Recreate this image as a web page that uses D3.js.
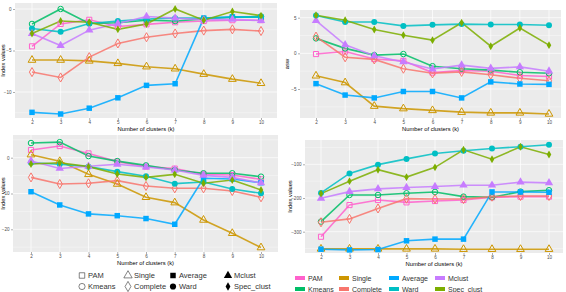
<!DOCTYPE html>
<html>
<head>
<meta charset="utf-8">
<script src="https://cdn.jsdelivr.net/npm/d3@7"></script>
<style>
body { margin: 0; background: #fff; }
svg { display: block; font-family: "Liberation Sans", Arial, sans-serif; }
</style>
</head>
<body>
<div id="chart"></div>
<script>
// data
const ks = [2, 3, 4, 5, 6, 7, 8, 9, 10]
const methods = ["PAM", "Kmeans", "Single", "Complete", "Average", "Ward", "Mclust", "Spec_clust"]
const colors = ["#FF61CC", "#00BE67", "#CD9600", "#F8766D", "#00A9FF", "#00BFC4", "#C77CFF", "#7CAE00"]
const shapeNames = ["square", "circle", "triangle", "diamond", "square", "circle", "triangle", "diamond"]
const shapeFilled = [false, false, false, false, true, true, true, true]

// top left panel (Index values)
const topLeft = {
  PAM:        [-4.5, -1.8, -1.3, -2.1, -1.85, -1.6, -1.45, -1.35, -1.35],
  Kmeans:     [-1.8, 0.0, -1.75, -1.65, -1.35, -1.45, -1.2, -1.0, -0.9],
  Single:     [-6.15, -6.15, -6.25, -6.55, -6.95, -7.2, -7.85, -8.45, -8.95],
  Complete:   [-7.6, -8.25, -5.8, -4.15, -3.4, -2.95, -2.6, -2.45, -2.65],
  Average:    [-12.45, -12.65, -11.95, -10.7, -9.2, -9.0, -1.1, -0.95, -1.0],
  Ward:       [-2.35, -2.75, -1.75, -1.45, -1.2, -1.1, -1.1, -1.0, -1.0],
  Mclust:     [-2.95, -4.4, -2.55, -1.75, -0.9, -1.1, -1.3, -1.25, -1.4],
  Spec_clust: [-2.95, -1.45, -1.6, -2.45, -1.8, 0.0, -1.35, -0.3, -0.8]
}
// top right panel (asw)
const topRight = {
  PAM:        [-0.1, 0.25, -0.8, -1.05, -2.7, -2.4, -2.5, -3.1, -3.25],
  Kmeans:     [2.1, 0.7, -0.25, -0.1, -1.8, -2.15, -2.35, -2.65, -2.8],
  Single:     [-3.15, -4.1, -7.4, -7.75, -8.0, -8.25, -8.35, -8.35, -8.5],
  Complete:   [2.35, -0.55, -0.85, -2.15, -2.8, -2.6, -3.0, -3.5, -3.85],
  Average:    [-4.25, -5.85, -6.25, -5.35, -5.35, -6.25, -4.0, -4.3, -4.35],
  Ward:       [5.3, 4.4, 4.4, 3.85, 4.0, 4.1, 4.05, 4.05, 3.95],
  Mclust:     [4.6, 1.2, -0.35, -1.2, -2.2, -1.65, -2.1, -1.9, -2.5],
  Spec_clust: [5.35, 4.65, 3.35, 2.55, 1.85, 4.3, 1.0, 3.55, 1.15]
}
// bottom left panel (Index values)
const bottomLeft = {
  PAM:        [2.15, 3.25, 1.2, -1.1, -2.5, -3.05, -4.65, -4.85, -6.05],
  Kmeans:     [4.1, 4.35, 0.45, -0.95, -2.15, -3.45, -4.35, -4.35, -5.3],
  Single:     [0.85, -1.0, -4.65, -7.35, -11.05, -12.55, -17.4, -21.1, -25.1],
  Complete:   [-5.5, -7.35, -7.15, -6.4, -7.9, -8.55, -8.55, -9.3, -11.05],
  Average:    [-9.5, -13.2, -15.7, -16.2, -17.0, -18.6, -5.75, -5.95, -7.0],
  Ward:       [-1.4, -1.85, -2.5, -3.9, -5.2, -7.25, -6.8, -8.75, -9.95],
  Mclust:     [-0.9, -3.0, -2.4, -1.85, -2.6, -3.45, -4.95, -5.5, -7.05],
  Spec_clust: [-1.75, -1.4, -2.5, -4.55, -5.5, -4.65, -7.15, -6.25, -9.0]
}
// bottom right panel (Index values)
const bottomRight = {
  PAM:        [-315, -221, -206, -213, -209, -206, -198, -196, -196],
  Kmeans:     [-270, -191, -191, -186, -182, -196, -198, -181, -177],
  Single:     [-351, -351, -351, -351, -351, -352, -352, -352, -352],
  Complete:   [-272, -262, -231, -202, -203, -203, -196, -194, -194],
  Average:    [-352, -354, -353, -327, -322, -322, -182, -182, -183],
  Ward:       [-185, -127, -101, -84, -68, -60, -53, -48, -42],
  Mclust:     [-201, -181, -173, -169, -166, -162, -162, -153, -155],
  Spec_clust: [-187, -150, -116, -138, -109, -57, -85, -48, -71]
}

const W = 566, H = 292

const svg = d3.select("#chart").append("svg")
  .attr("width", W)
  .attr("height", H)

const symbolOf = {
  square: d3.symbolSquare,
  circle: d3.symbolCircle,
  triangle: d3.symbolTriangle,
  diamond: d3.symbolDiamond
}
const symbolSize = [26, 24, 26, 24, 30, 28, 30, 18]

function drawPanel(values, p) {
  const g = svg.append("g")

  const x = d3.scaleLinear().domain([2, 10]).range(p.xr)
  const y = d3.scaleLinear().domain(p.yDom).range(p.yr)

  // background
  g.append("rect")
    .attr("x", p.box[0]).attr("y", p.box[1])
    .attr("width", p.box[2] - p.box[0])
    .attr("height", p.box[3] - p.box[1])
    .style("fill", "#EBEBEB")

  // minor horizontal grid
  const step = Math.abs(p.yTicks[1] - p.yTicks[0])
  const minor = []
  const lo = Math.min(...p.yTicks) - step, hi = Math.max(...p.yTicks) + step
  for (let v = lo + step / 2; v < hi; v += step) {
    const py = y(v)
    if (py > p.box[1] && py < p.box[3]) minor.push(v)
  }
  g.selectAll("line.minor")
    .data(minor)
    .enter().append("line")
    .attr("x1", p.box[0]).attr("x2", p.box[2])
    .attr("y1", d => y(d)).attr("y2", d => y(d))
    .style("stroke", "#fff").style("stroke-width", 0.35)

  g.selectAll("line.hgrid")
    .data(p.yTicks)
    .enter().append("line")
    .attr("x1", p.box[0]).attr("x2", p.box[2])
    .attr("y1", d => y(d)).attr("y2", d => y(d))
    .style("stroke", "#fff").style("stroke-width", 0.7)

  g.selectAll("line.vgrid")
    .data(ks)
    .enter().append("line")
    .attr("x1", d => x(d)).attr("x2", d => x(d))
    .attr("y1", p.box[1]).attr("y2", p.box[3])
    .style("stroke", "#fff").style("stroke-width", 0.7)

  // lines then points
  const line = d3.line().x((d, i) => x(ks[i])).y(d => y(d))
  methods.forEach((m, j) => {
    g.append("path")
      .datum(values[m])
      .attr("d", line)
      .style("fill", "none")
      .style("stroke", colors[j])
      .style("stroke-width", 1.6)
      .style("stroke-opacity", 0.85)
  })
  methods.forEach((m, j) => {
    const sym = d3.symbol().type(symbolOf[shapeNames[j]]).size(symbolSize[j])
    g.selectAll(null)
      .data(values[m])
      .enter().append("path")
      .attr("d", sym)
      .attr("transform", (d, i) => "translate(" + x(ks[i]) + "," + y(d) + ")")
      .style("fill", shapeFilled[j] ? colors[j] : "none")
      .style("stroke", colors[j])
      .style("stroke-width", shapeFilled[j] ? 0 : 1)
  })

  // axes
  const xAxis = d3.axisBottom(x).tickValues(ks).tickSize(2).tickPadding(1)
  g.append("g")
    .attr("transform", "translate(0," + p.box[3] + ")")
    .call(xAxis)
    .call(a => a.select(".domain").remove())
    .call(a => a.selectAll("line").style("stroke", "#333").style("stroke-width", 0.4))
    .call(a => a.selectAll("text").style("font-size", "4.6px").style("fill", "#4D4D4D").style("font-family", "Liberation Sans, Arial, sans-serif"))

  const yAxis = d3.axisLeft(y).tickValues(p.yTicks).tickSize(2).tickPadding(1.5)
  g.append("g")
    .attr("transform", "translate(" + p.box[0] + ",0)")
    .call(yAxis)
    .call(a => a.select(".domain").remove())
    .call(a => a.selectAll("line").style("stroke", "#333").style("stroke-width", 0.4))
    .call(a => a.selectAll("text").style("font-size", "4.6px").style("fill", "#4D4D4D").style("font-family", "Liberation Sans, Arial, sans-serif"))

  // axis titles
  g.append("text")
    .text("Number of clusters (k)")
    .attr("x", (p.box[0] + p.box[2]) / 2)
    .attr("y", p.xTitleY)
    .style("text-anchor", "middle")
    .style("font-size", "5.8px")
    .style("fill", "#000")

  g.append("text")
    .text(p.yTitle)
    .attr("transform", "translate(" + p.yTitleX + "," + ((p.box[1] + p.box[3]) / 2) + ") rotate(-90)")
    .style("text-anchor", "middle")
    .style("font-size", "5.8px")
    .style("fill", "#000")
}

drawPanel(topLeft, {
  box: [15, 3, 277, 118], xr: [32, 261],
  yDom: [0, -10], yr: [9, 92], yTicks: [0, -5, -10],
  yTitle: "Index values", yTitleX: 5, xTitleY: 131
})
drawPanel(topRight, {
  box: [300, 10, 561, 118], xr: [316, 549],
  yDom: [5, -5], yr: [17.7, 89], yTicks: [5, 0, -5],
  yTitle: "asw", yTitleX: 289, xTitleY: 131
})
drawPanel(bottomLeft, {
  box: [13, 135, 278, 252], xr: [31, 261],
  yDom: [0, -20], yr: [157.7, 229.3], yTicks: [0, -10, -20],
  yTitle: "Index values", yTitleX: 5, xTitleY: 265
})
drawPanel(bottomRight, {
  box: [305, 140, 563, 253], xr: [321, 549],
  yDom: [-100, -300], yr: [164.3, 231.7], yTicks: [-100, -200, -300],
  yTitle: "Index values", yTitleX: 292, xTitleY: 266
})

// shape legend (left)
const shapeLegX = [82, 128, 173, 228]
methods.forEach((m, j) => {
  const col = Math.floor(j / 2), row = j % 2
  const cx = shapeLegX[col], cy = 275.5 + row * 11
  const sym = d3.symbol().type(symbolOf[shapeNames[j]]).size(j === 7 ? 20 : 30)
  svg.append("path")
    .attr("d", sym)
    .attr("transform", "translate(" + cx + "," + cy + ")")
    .style("fill", shapeFilled[j] ? "#000" : "none")
    .style("stroke", shapeFilled[j] ? "none" : "#333")
    .style("stroke-width", 0.6)
  svg.append("text")
    .text(m)
    .attr("x", cx + 6)
    .attr("y", cy + 2.6)
    .style("font-size", "7.5px")
    .style("fill", "#333")
})

// colour legend (right)
const colLegX = [295, 339, 389, 435]
methods.forEach((m, j) => {
  const col = Math.floor(j / 2), row = j % 2
  const sx = colLegX[col], cy = 278 + row * 11
  svg.append("rect")
    .attr("x", sx).attr("y", cy - 2)
    .attr("width", 10).attr("height", 4)
    .style("fill", colors[j])
  svg.append("text")
    .text(m)
    .attr("x", sx + 13)
    .attr("y", cy + 2.5)
    .style("font-size", "7px")
    .style("fill", "#333")
})
</script>
</body>
</html>
